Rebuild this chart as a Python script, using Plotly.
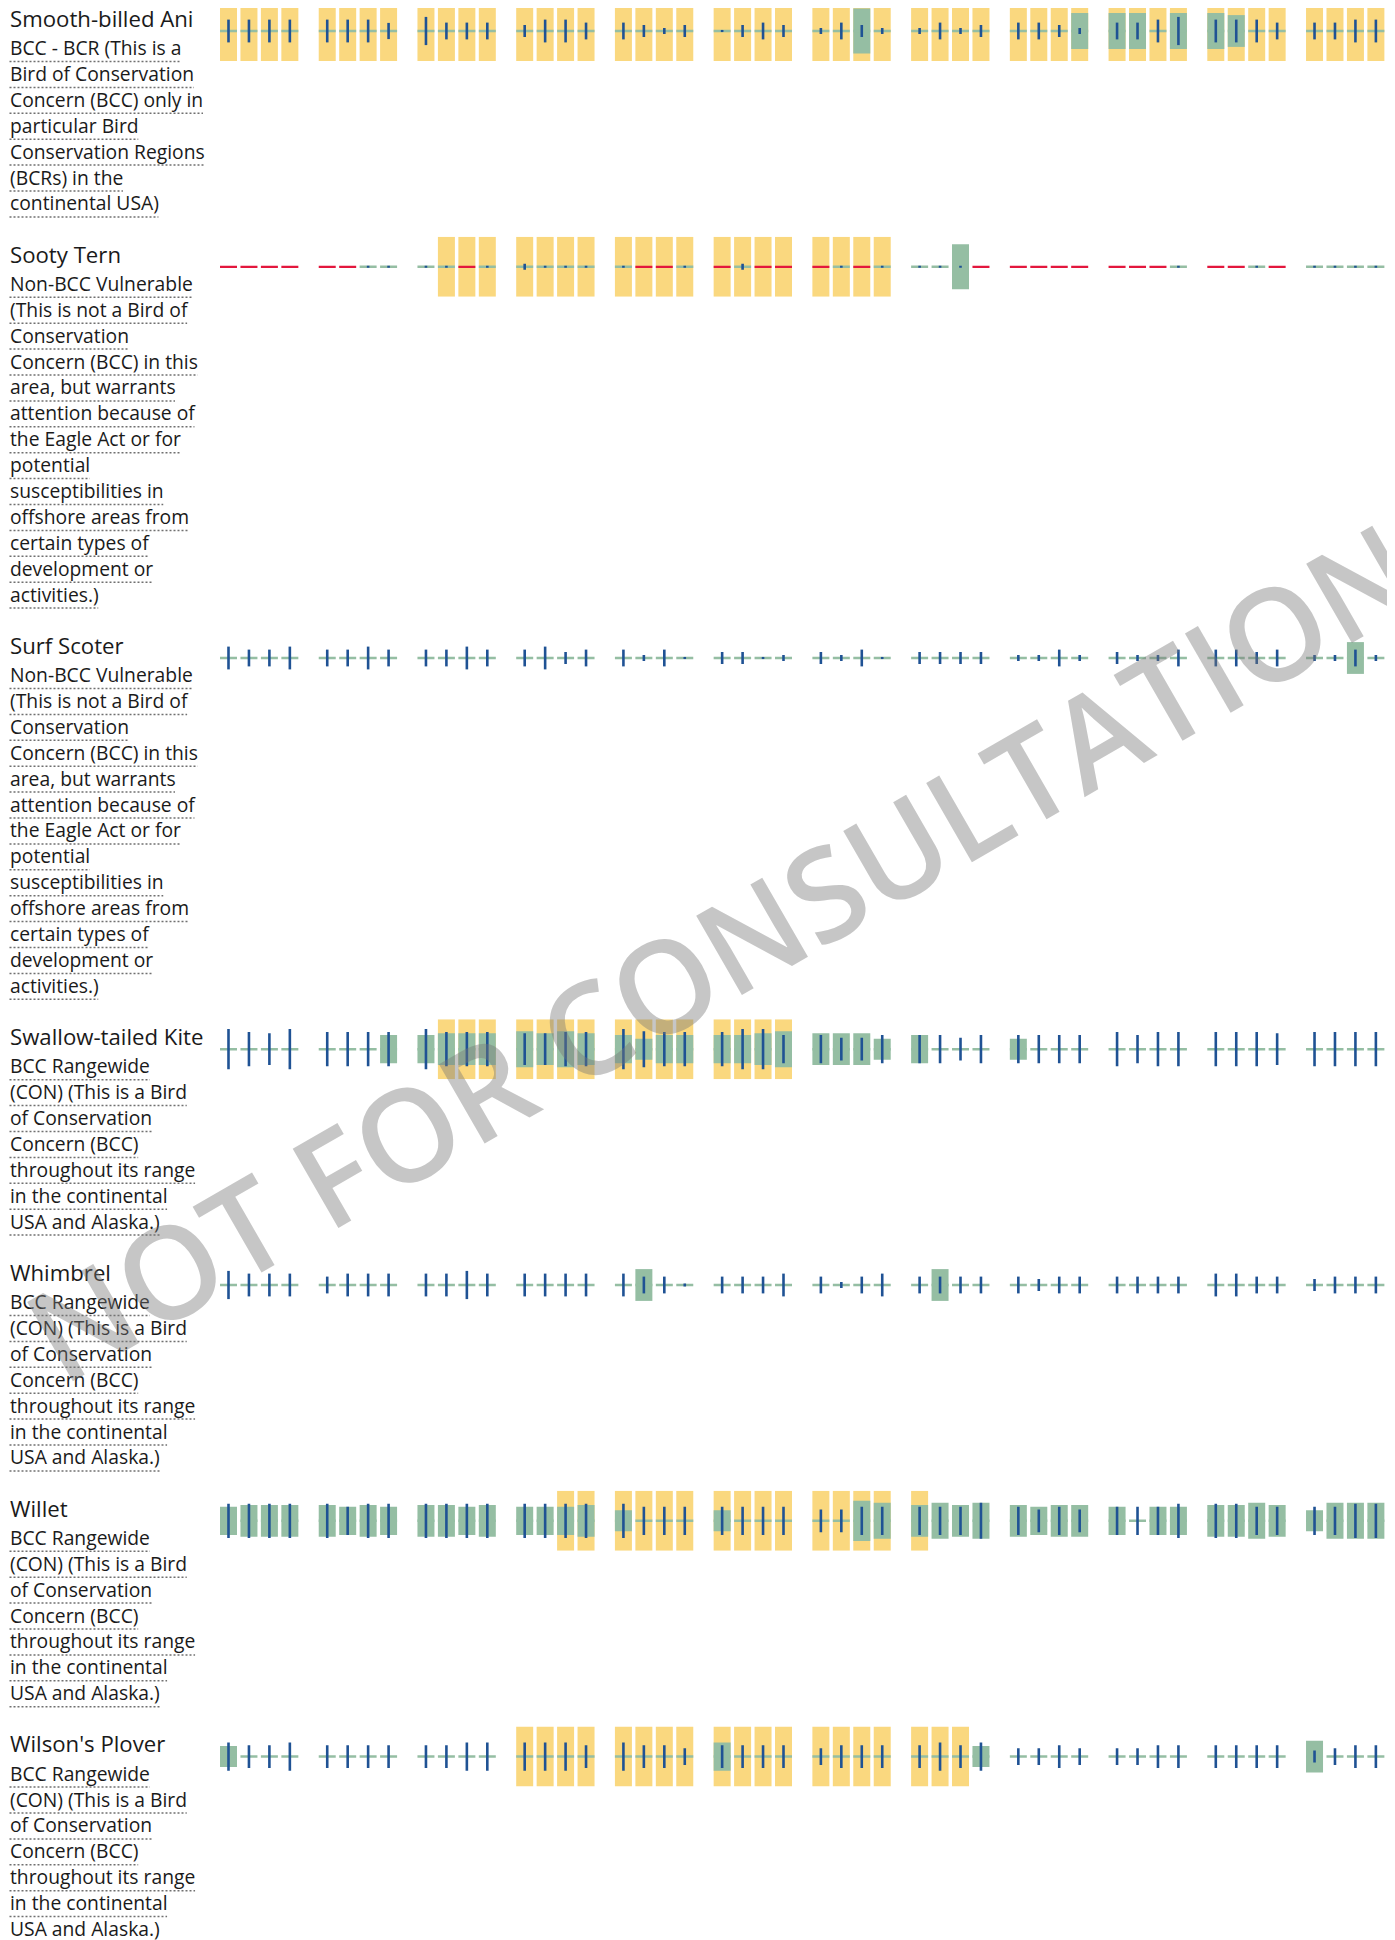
import plotly.graph_objects as go

W, H = 1395, 1940          # page size
OFF = 8                    # page margin around the plot div
FW, FH = W - OFF, H - OFF

SPECIES = ["Smooth-billed Ani", "Sooty Tern", "Surf Scoter", "Swallow-tailed Kite",
           "Whimbrel", "Willet", "Wilson's Plover"]

BCR_TEXT = ["BCC - BCR (This is a", "Bird of Conservation", "Concern (BCC) only in",
            "particular Bird", "Conservation Regions", "(BCRs) in the", "continental USA)"]
VULN_TEXT = ["Non-BCC Vulnerable", "(This is not a Bird of", "Conservation",
             "Concern (BCC) in this", "area, but warrants", "attention because of",
             "the Eagle Act or for", "potential", "susceptibilities in",
             "offshore areas from", "certain types of", "development or", "activities.)"]
RANGE_TEXT = ["BCC Rangewide", "(CON) (This is a Bird", "of Conservation", "Concern (BCC)",
              "throughout its range", "in the continental", "USA and Alaska.)"]
LABELS = [BCR_TEXT, VULN_TEXT, VULN_TEXT, RANGE_TEXT, RANGE_TEXT, RANGE_TEXT, RANGE_TEXT]

# ---- weekly values (12 months x 4 weeks), scale 0-10 = full cell height ----
# Smooth-billed Ani
ANI_PROB = [0, 0, 0, 0,  0, 0, 0, 0,  0, 0, 0, 0,  0, 0, 0, 0,  0, 0, 0, 0,  0, 0, 0, 0,
            0, 0, 7.5, 0,  0, 0, 0, 0,  0, 0, 0, 6.0,  6.0, 6.0, 0, 6.0,  6.0, 5.3, 0, 0,  0, 0, 0, 0]
ANI_EFFORT = [3.8, 3.8, 3.8, 3.8,  3.8, 3.8, 3.8, 2.7,  4.7, 2.8, 2.8, 2.8,  2.0, 3.8, 3.8, 2.8,
              2.8, 2.0, 1.0, 2.0,  0.35, 2.0, 2.8, 2.0,  1.0, 2.8, 2.0, 1.0,  1.0, 2.8, 1.0, 2.0,
              2.8, 2.8, 2.0, 1.0,  2.8, 2.8, 3.8, 4.7,  3.8, 3.8, 3.8, 2.8,  2.8, 2.8, 3.8, 3.8]
ANI_BREED = [1, 1, 1, 1,  1, 1, 1, 1,  1, 1, 1, 1,  1, 1, 1, 1,  1, 1, 1, 1,  1, 1, 1, 1,
             1, 1, 1, 1,  1, 1, 1, 1,  1, 1, 1, 1,  1, 1, 1, 1,  1, 1, 1, 1,  1, 1, 1, 1]
ANI_NODATA = [0, 0, 0, 0,  0, 0, 0, 0,  0, 0, 0, 0,  0, 0, 0, 0,  0, 0, 0, 0,  0, 0, 0, 0,
              0, 0, 0, 0,  0, 0, 0, 0,  0, 0, 0, 0,  0, 0, 0, 0,  0, 0, 0, 0,  0, 0, 0, 0]

# Sooty Tern
SOOTY_PROB = [0, 0, 0, 0,  0, 0, 0, 0,  0, 0, 0, 0,  0, 0, 0, 0,  0, 0, 0, 0,  0, 0, 0, 0,
              0, 0, 0, 0,  0, 0, 7.5, 0,  0, 0, 0, 0,  0, 0, 0, 0,  0, 0, 0, 0,  0, 0, 0, 0]
SOOTY_EFFORT = [0, 0, 0, 0,  0, 0, 0.35, 0.35,  0.35, 0.35, 0, 0.35,  1.0, 0.35, 0.35, 0.35,
                0.35, 0, 0, 0.35,  0, 1.0, 0, 0,  0, 0.35, 0, 0.35,  0.35, 0.35, 0.35, 0,
                0, 0, 0, 0,  0, 0, 0, 0.35,  0, 0, 0.35, 0,  0.35, 0.35, 0.35, 0.35]
SOOTY_BREED = [0, 0, 0, 0,  0, 0, 0, 0,  0, 1, 1, 1,  1, 1, 1, 1,  1, 1, 1, 1,  1, 1, 1, 1,
               1, 1, 1, 1,  0, 0, 0, 0,  0, 0, 0, 0,  0, 0, 0, 0,  0, 0, 0, 0,  0, 0, 0, 0]
SOOTY_NODATA = [1, 1, 1, 1,  1, 1, 0, 0,  0, 0, 1, 0,  0, 0, 0, 0,  0, 1, 1, 0,  1, 0, 1, 1,
                1, 0, 1, 0,  0, 0, 0, 1,  1, 1, 1, 1,  1, 1, 1, 0,  1, 1, 0, 1,  0, 0, 0, 0]

# Surf Scoter
SCOTER_PROB = [0, 0, 0, 0,  0, 0, 0, 0,  0, 0, 0, 0,  0, 0, 0, 0,  0, 0, 0, 0,  0, 0, 0, 0,
               0, 0, 0, 0,  0, 0, 0, 0,  0, 0, 0, 0,  0, 0, 0, 0,  0, 0, 0, 0,  0, 0, 5.3, 0]
SCOTER_EFFORT = [3.8, 2.8, 2.8, 3.8,  2.8, 2.8, 3.8, 2.8,  2.8, 2.8, 3.8, 2.8,  2.8, 3.8, 2.0, 2.8,
                 2.8, 1.0, 2.8, 0.35,  2.0, 2.0, 0.35, 1.0,  2.0, 1.0, 2.8, 0.35,  2.0, 2.0, 2.0, 2.0,
                 1.0, 1.0, 2.8, 1.0,  2.0, 1.0, 1.0, 2.8,  2.8, 2.8, 2.0, 2.8,  1.0, 1.0, 2.8, 1.0]
SCOTER_BREED = [0, 0, 0, 0,  0, 0, 0, 0,  0, 0, 0, 0,  0, 0, 0, 0,  0, 0, 0, 0,  0, 0, 0, 0,
                0, 0, 0, 0,  0, 0, 0, 0,  0, 0, 0, 0,  0, 0, 0, 0,  0, 0, 0, 0,  0, 0, 0, 0]
SCOTER_NODATA = SCOTER_BREED

# Swallow-tailed Kite
KITE_PROB = [0, 0, 0, 0,  0, 0, 0, 4.7,  4.7, 5.3, 5.3, 5.3,  6.0, 5.3, 6.0, 5.3,
             4.7, 3.5, 4.7, 4.7,  4.7, 4.7, 5.3, 6.0,  5.3, 5.3, 5.3, 3.5,  4.7, 0, 0, 0,
             3.5, 0, 0, 0,  0, 0, 0, 0,  0, 0, 0, 0,  0, 0, 0, 0]
KITE_EFFORT = [6.7, 5.7, 5.3, 6.7,  5.7, 5.7, 5.7, 5.7,  6.7, 5.7, 5.7, 5.7,  5.3, 5.3, 5.7, 5.7,
               6.7, 6.0, 5.7, 5.7,  5.7, 6.7, 6.7, 4.7,  4.7, 3.8, 3.8, 4.7,  4.7, 4.7, 3.8, 4.7,
               4.7, 4.7, 4.7, 4.7,  5.7, 4.7, 5.7, 5.7,  5.7, 5.7, 5.7, 5.3,  5.7, 5.7, 5.7, 5.7]
KITE_BREED = [0, 0, 0, 0,  0, 0, 0, 0,  0, 1, 1, 1,  1, 1, 1, 1,  1, 1, 1, 1,  1, 1, 1, 1,
              0, 0, 0, 0,  0, 0, 0, 0,  0, 0, 0, 0,  0, 0, 0, 0,  0, 0, 0, 0,  0, 0, 0, 0]
KITE_NODATA = SCOTER_BREED

# Whimbrel
WHIMBREL_PROB = [0, 0, 0, 0,  0, 0, 0, 0,  0, 0, 0, 0,  0, 0, 0, 0,  0, 5.3, 0, 0,  0, 0, 0, 0,
                 0, 0, 0, 0,  0, 5.3, 0, 0,  0, 0, 0, 0,  0, 0, 0, 0,  0, 0, 0, 0,  0, 0, 0, 0]
WHIMBREL_EFFORT = [4.7, 3.8, 3.8, 3.8,  2.8, 3.8, 3.8, 3.8,  3.8, 3.8, 4.7, 3.8,  3.8, 3.8, 3.8, 3.8,
                   3.8, 2.8, 2.8, 0.5,  2.8, 2.8, 2.8, 3.8,  2.8, 1.0, 2.8, 3.8,  2.8, 2.8, 2.8, 2.8,
                   2.8, 2.0, 2.8, 2.8,  2.8, 2.8, 2.8, 2.8,  3.8, 3.8, 2.8, 2.8,  2.0, 2.8, 2.8, 2.8]
WHIMBREL_BREED = SCOTER_BREED
WHIMBREL_NODATA = SCOTER_BREED

# Willet
WILLET_PROB = [4.7, 5.3, 5.3, 5.3,  5.3, 4.7, 5.3, 4.7,  5.3, 5.3, 4.7, 5.3,  4.7, 4.7, 4.7, 5.3,
               3.5, 0, 0, 0,  3.5, 0, 0, 0,  0, 0, 6.7, 6.0,  5.3, 6.0, 5.3, 6.0,
               5.3, 4.7, 5.3, 5.3,  4.7, 0, 4.7, 4.7,  5.3, 5.3, 6.0, 5.3,  3.5, 6.0, 6.0, 6.0]
WILLET_EFFORT = [5.7, 5.7, 5.7, 5.7,  5.7, 4.7, 5.7, 5.7,  5.7, 5.7, 5.7, 5.7,  5.7, 5.7, 5.7, 5.7,
                 5.7, 4.7, 4.7, 4.7,  4.7, 4.7, 4.7, 4.7,  3.8, 3.8, 4.7, 4.7,  4.7, 4.7, 4.7, 6.0,
                 4.7, 3.8, 4.7, 3.8,  4.7, 4.7, 4.7, 5.7,  5.7, 5.7, 4.7, 4.7,  4.7, 4.7, 5.7, 5.7]
WILLET_BREED = [0, 0, 0, 0,  0, 0, 0, 0,  0, 0, 0, 0,  0, 0, 1, 1,  1, 1, 1, 1,  1, 1, 1, 1,
                1, 1, 1, 1,  1, 0, 0, 0,  0, 0, 0, 0,  0, 0, 0, 0,  0, 0, 0, 0,  0, 0, 0, 0]
WILLET_NODATA = SCOTER_BREED

# Wilson's Plover
PLOVER_PROB = [3.5, 0, 0, 0,  0, 0, 0, 0,  0, 0, 0, 0,  0, 0, 0, 0,  0, 0, 0, 0,  4.7, 0, 0, 0,
               0, 0, 0, 0,  0, 0, 0, 3.5,  0, 0, 0, 0,  0, 0, 0, 0,  0, 0, 0, 0,  5.3, 0, 0, 0]
PLOVER_EFFORT = [4.7, 3.8, 3.8, 4.7,  3.8, 3.8, 3.8, 3.8,  3.8, 3.8, 4.7, 4.7,  4.7, 4.7, 4.7, 3.8,
                 4.7, 3.8, 3.8, 2.8,  3.8, 3.8, 3.8, 3.8,  2.8, 3.8, 3.8, 3.8,  3.8, 4.7, 3.8, 4.7,
                 2.8, 2.8, 3.8, 2.8,  2.8, 2.8, 3.8, 3.8,  3.8, 3.8, 3.8, 3.8,  2.0, 2.8, 3.8, 3.8]
PLOVER_BREED = [0, 0, 0, 0,  0, 0, 0, 0,  0, 0, 0, 0,  1, 1, 1, 1,  1, 1, 1, 1,  1, 1, 1, 1,
                1, 1, 1, 1,  1, 1, 1, 0,  0, 0, 0, 0,  0, 0, 0, 0,  0, 0, 0, 0,  0, 0, 0, 0]
PLOVER_NODATA = SCOTER_BREED

PROB = [ANI_PROB, SOOTY_PROB, SCOTER_PROB, KITE_PROB, WHIMBREL_PROB, WILLET_PROB, PLOVER_PROB]
EFFORT = [ANI_EFFORT, SOOTY_EFFORT, SCOTER_EFFORT, KITE_EFFORT, WHIMBREL_EFFORT, WILLET_EFFORT, PLOVER_EFFORT]
BREED = [ANI_BREED, SOOTY_BREED, SCOTER_BREED, KITE_BREED, WHIMBREL_BREED, WILLET_BREED, PLOVER_BREED]
NODATA = [ANI_NODATA, SOOTY_NODATA, SCOTER_NODATA, KITE_NODATA, WHIMBREL_NODATA, WILLET_NODATA, PLOVER_NODATA]

# ---- styling / geometry (page pixels) ----
YELLOW = "#fad87f"
GREEN = "#95bea3"
BLUE = "#1f5294"
RED = "#e3173d"
TEXT = "#1a1a1a"
FONT = "Open Sans"

X0, MONTH_STEP, WEEK_STEP = 228.5, 98.73, 20.45
BOX_W, EFFORT_W = 17, 2.6
CELL_H = 60
FIRST_CENTER, ROW_BASE, LINE_PITCH = 31, 54.5, 25.9
TEXT_X, TITLE_FS, SUB_FS = 7.5, 22.2, 19.3

CW = {' ': 532, '(': 604, ')': 604, '-': 659, '.': 545, ',': 500, "'": 395,
      'a': 1139, 'b': 1255, 'c': 975, 'd': 1255, 'e': 1149, 'f': 694, 'g': 1122, 'h': 1257,
      'i': 518, 'j': 518, 'k': 1075, 'l': 518, 'm': 1905, 'n': 1257, 'o': 1237, 'p': 1255,
      'q': 1255, 'r': 836, 's': 977, 't': 723, 'u': 1257, 'v': 1026, 'w': 1593, 'x': 1073,
      'y': 1028, 'z': 977, 'A': 1296, 'B': 1327, 'C': 1292, 'D': 1493, 'E': 1124, 'F': 1026,
      'G': 1485, 'H': 1511, 'I': 571, 'J': 545, 'K': 1212, 'L': 1053, 'M': 1849, 'N': 1544,
      'O': 1595, 'P': 1233, 'Q': 1595, 'R': 1266, 'S': 1106, 'T': 1114, 'U': 1511, 'V': 1235,
      'W': 1903, 'X': 1192, 'Y': 1143, 'Z': 1133}


def text_width(s, fs):
    return sum(CW.get(c, 1100) for c in s) / 2048.0 * fs


def px(x):
    return (x - OFF) / FW


def py(y):
    return 1 - (y - OFF) / FH


xs = [X0 + m * MONTH_STEP + w * WEEK_STEP for m in range(12) for w in range(4)]

fig = go.Figure()
layout = dict(width=FW, height=FH, margin=dict(l=0, r=0, t=0, b=0), paper_bgcolor="white",
              plot_bgcolor="white", barmode="overlay", showlegend=False,
              xaxis=dict(range=[OFF, OFF + FW], domain=[0, 1], visible=False, fixedrange=True))
annotations, shapes = [], []

center = FIRST_CENTER
for i, name in enumerate(SPECIES):
    ya = "y" if i == 0 else f"y{i + 1}"
    key = "yaxis" if i == 0 else f"yaxis{i + 1}"
    top = center - CELL_H / 2
    bottom = center + CELL_H / 2
    vis_top = max(top, OFF)   # cells above the plot div are clipped, scale unchanged
    layout[key] = dict(domain=[py(bottom), py(vis_top)],
                       range=[-5, -5 + 10 * (bottom - vis_top) / CELL_H],
                       visible=False, anchor="x", fixedrange=True)
    prob, eff, br, nd = PROB[i], EFFORT[i], BREED[i], NODATA[i]

    def bar(sel, heights, color, width):
        idx = [k for k in range(48) if sel[k]]
        if not idx:
            return
        fig.add_trace(go.Bar(x=[xs[k] for k in idx], y=[heights[k] for k in idx],
                             base=[-heights[k] / 2 for k in idx], width=width,
                             marker=dict(color=color, line=dict(width=0)),
                             xaxis="x", yaxis=ya, hoverinfo="skip", showlegend=False))

    bar(br, [10] * 48, YELLOW, BOX_W)
    bar([p > 0 for p in prob], prob, GREEN, BOX_W)
    bar([not v for v in nd], [0.42] * 48, GREEN, BOX_W)
    bar(nd, [0.36] * 48, RED, BOX_W)
    bar([e > 0 for e in eff], eff, BLUE, EFFORT_W)

    # labels
    tb = center - 4
    annotations.append(dict(text=name, x=px(TEXT_X), y=py(tb - 0.388 * TITLE_FS),
                            xref="paper", yref="paper", xanchor="left", yanchor="middle",
                            showarrow=False, font=dict(family=FONT, size=TITLE_FS, color=TEXT)))
    for k, line in enumerate(LABELS[i]):
        b = center + 24 + k * LINE_PITCH
        annotations.append(dict(text=line, x=px(TEXT_X), y=py(b - 0.388 * SUB_FS),
                                xref="paper", yref="paper", xanchor="left", yanchor="middle",
                                showarrow=False, font=dict(family=FONT, size=SUB_FS, color=TEXT)))
        uy = py(b + 6.5)
        shapes.append(dict(type="line", xref="paper", yref="paper",
                           x0=px(TEXT_X + 2), x1=px(TEXT_X + 2 + text_width(line, SUB_FS)),
                           y0=uy, y1=uy, line=dict(color="#707070", width=1.5, dash="2px,2px")))
    center += ROW_BASE + LINE_PITCH * len(LABELS[i])

annotations.append(dict(text="NOT FOR CONSULTATION", x=px(720), y=py(950),
                        xref="paper", yref="paper", xanchor="center", yanchor="middle",
                        showarrow=False, textangle=-30,
                        font=dict(family=FONT, size=128, color="rgba(120,120,120,0.42)", weight=600)))

layout["annotations"] = annotations
layout["shapes"] = shapes
fig.update_layout(**layout)
fig.write_html("out.html")
